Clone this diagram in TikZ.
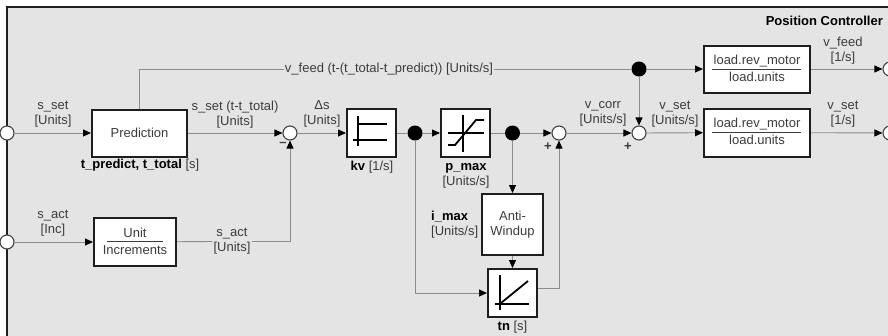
\documentclass[tikz,border=0pt]{standalone}
\usepackage{fontspec}
\setmainfont{Liberation Sans}
\usetikzlibrary{arrows.meta,calc}
\definecolor{bgc}{HTML}{E4E4E4}
\definecolor{lnc}{HTML}{8C8C8C}
\definecolor{txc}{HTML}{3C3C3C}
\definecolor{bdc}{HTML}{1E1E1E}
\begin{document}
\begin{tikzpicture}[x=1pt,y=-1pt,
  font=\fontsize{13}{15}\selectfont,
  every node/.style={text=txc},
  conn/.style={draw=lnc, line width=0.9pt},
  arr/.style={conn, -{Triangle[length=8pt,width=7pt,color=black]}},
  blk/.style={draw=bdc, line width=2pt, fill=white, inner sep=0pt, align=center},
  sumc/.style={circle, draw=bdc!85, line width=1.1pt, fill=white, minimum size=14pt, inner sep=0pt},
  jdot/.style={circle, fill=black, minimum size=15pt, inner sep=0pt},
  lbl/.style={align=center, inner sep=1pt},
  bld/.style={text=black},
  sym/.style={draw=black, line width=1.8pt},
  frac/.style={draw=txc, line width=0.9pt},
]
\useasboundingbox (0,0) rectangle (888,335);
\fill[white] (0,0) rectangle (888,335);
\fill[bgc] (7,7) rectangle (890,337);
\draw[bdc, line width=2pt] (7,337) -- (7,7) -- (890,7);

% title
\node[bld, anchor=east, inner sep=0pt] (title) at (883,21) {\textbf{Position Controller}};

% ports
\node[sumc] (in1) at (7,133) {};
\node[sumc] (in2) at (7,242) {};
\node[sumc] (out1) at (890,69) {};
\node[sumc] (out2) at (890,133) {};

% blocks
\node[blk, minimum width=95pt, minimum height=47pt] (pred) at (139.5,133) {Prediction};
\node[blk, minimum width=49pt, minimum height=48pt] (kv) at (371.5,133) {};
\node[blk, minimum width=49pt, minimum height=48pt] (pm) at (465.5,133) {};
\node[blk, minimum width=61pt, minimum height=61pt] (aw) at (512.5,224.5) {Anti-\\Windup};
\node[blk, minimum width=49pt, minimum height=48pt] (tn) at (512.5,293) {};
\node[blk, minimum width=82pt, minimum height=48pt] (ub) at (135,242) {};
\node[blk, minimum width=106pt, minimum height=47pt] (ld1) at (757,69) {};
\node[blk, minimum width=106pt, minimum height=48pt] (ld2) at (757,132.5) {};

% block contents
\node[inner sep=0pt] (ubn) at (135,233) {Unit};
\draw[frac] (107,241.5) -- (163,241.5);
\node[inner sep=0pt] (ubd) at (135,250) {Increments};
\node[inner sep=0pt] (l1n) at (757,61.5) {load.rev\_motor};
\draw[frac] (712,69) -- (801,69);
\node[inner sep=0pt] (l1d) at (757,77) {load.units};
\node[inner sep=0pt] (l2n) at (757,124.5) {load.rev\_motor};
\draw[frac] (712,132) -- (801,132);
\node[inner sep=0pt] (l2d) at (757,140) {load.units};

% kv symbol
\draw[sym] (358,116) -- (358,146);
\draw[sym] (358,124) -- (387,124);
\draw[sym] (353,140) -- (387,140);
% p_max symbol
\draw[sym] (463,115) -- (463,152);
\draw[sym] (448,133) -- (484,133);
\draw[sym] (448,145) -- (455,145) -- (476,120) -- (484,120);
% tn symbol
\draw[sym] (500,275) -- (500,310);
\draw[sym] (495,304) -- (529,304);
\draw[sym] (501,303) -- (528,281);

% summing junctions and dots
\node[sumc] (s1) at (290,133) {};
\node[sumc] (s2) at (559,133) {};
\node[sumc] (s3) at (639,133) {};
\node[jdot] (d1) at (415,133) {};
\node[jdot] (d2) at (512.5,133) {};
\node[jdot] (d3) at (639,69) {};

% signs
\node[inner sep=0pt] (m1) at (283,144) {\textbf{\textendash}};
\node[inner sep=0pt] (p2) at (548,147) {\textbf{+}};
\node[inner sep=0pt] (p3) at (628,147) {\textbf{+}};

% labels
\node[lbl] (lsset) at (53,114.5) {s\_set\\{[Units]}};
\node[lbl] (lssett) at (235,114.5) {s\_set (t-t\_total)\\{[Units]}};
\node[lbl] (ltp) at (140,165) {\textbf{\color{black}t\_predict, t\_total} [s]};
\node[lbl] (lds) at (322,113.5) {Δs\\{[Units]}};
\node[lbl] (lkv) at (372,167) {\textbf{\color{black}kv} [1/s]};
\node[lbl] (lpm) at (466,175.5) {\textbf{\color{black}p\_max}\\{[Units/s]}};
\node[lbl, align=left, anchor=west] (lim) at (430,224.5) {\textbf{\color{black}i\_max}\\{[Units/s]}};
\node[lbl] (ltn) at (512.5,327) {\textbf{\color{black}tn} [s]};
\node[lbl] (lvc) at (603,113.5) {v\_corr\\{[Units/s]}};
\node[lbl] (lvs) at (675,114) {v\_set\\{[Units/s]}};
\node[lbl] (lvf2) at (843,50.5) {v\_feed\\{[1/s]}};
\node[lbl] (lvs2) at (843,114) {v\_set\\{[1/s]}};
\node[lbl] (lsa) at (53,223) {s\_act\\{[Inc]}};
\node[lbl] (lsu) at (232,241.5) {s\_act\\{[Units]}};
\node[lbl] (lvf) at (389,69) {v\_feed (t-(t\_total-t\_predict)) [Units/s]};

% connectors
\draw[arr] (in1) -- (pred);
\draw[arr] (pred) -- (s1);
\draw[arr] (s1) -- (kv);
\draw[conn] (kv) -- (d1);
\draw[arr] (d1) -- (pm);
\draw[conn] (pm) -- (d2);
\draw[arr] (d2) -- (s2);
\draw[arr] (s2) -- (s3);
\draw[arr] (s3) -- (ld2);
\draw[arr] (ld2) -- (out2);
\draw[arr] (ld1) -- (out1);
\draw[arr] (d3) -- (ld1);
\draw[arr] (d3) -- (s3);
\draw[conn] (pred.north) |- (lvf.west);
\draw[conn] (lvf.east) -- (d3);
\draw[arr] (d2) -- (aw);
\draw[arr] (aw) -- (tn);
\draw[arr] (d1) |- (tn.west);
\draw[arr] ([yshift=5pt]tn.east) -| (s2.south);
\draw[arr] (in2) -- (ub);
\draw[conn] (ub) -- (lsu.west);
\draw[arr] (lsu.east) -| (s1.south);
\end{tikzpicture}
\end{document}
